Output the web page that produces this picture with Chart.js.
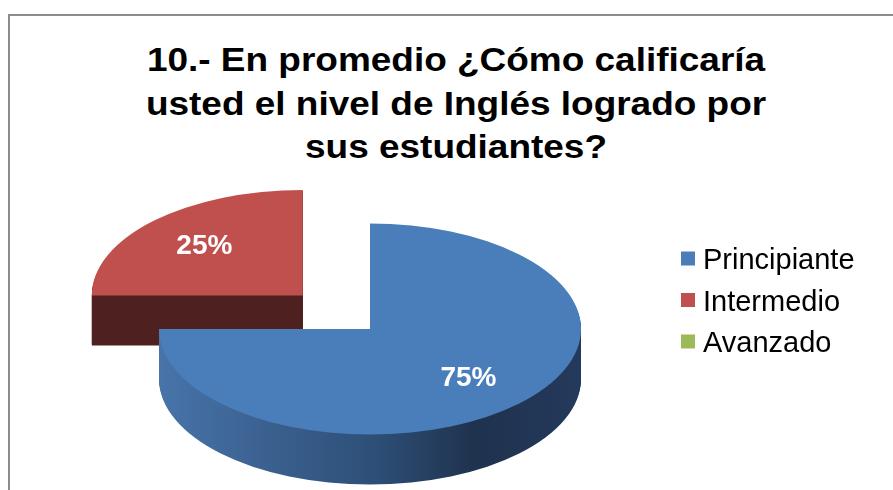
<!DOCTYPE html>
<html>
<head>
<meta charset="utf-8">
<title>Nivel de Inglés</title>
<script src="https://cdn.jsdelivr.net/npm/chart.js@4.4.1/dist/chart.umd.min.js"></script>
<style>
    body { margin: 0; background: #fff; }
    #wrap { position: relative; width: 893px; height: 490px; overflow: hidden; font-family: "Liberation Sans", Arial, sans-serif; }
    #frame { position: absolute; left: 8px; top: 14px; width: 900px; height: 500px; border-left: 2px solid #8c8c8c; border-top: 2px solid #8c8c8c; }
    #title { position: absolute; left: 0; top: 38px; width: 912px; text-align: center; font-weight: bold; font-size: 33px; line-height: 43.5px; color: #000; transform: scaleX(1.12); transform-origin: 456px 0; }
    #chart { position: absolute; left: 0; top: 0; }
</style>
</head>
<body>
<div id="wrap">
    <div id="frame"></div>
    <div id="title"></div>
    <canvas id="chart" width="893" height="490"></canvas>
</div>
<script>
// Chart data
const titleLines = ['10.- En promedio ¿Cómo calificaría', 'usted el nivel de Inglés logrado por', 'sus estudiantes?'];
const categories = ['Principiante', 'Intermedio', 'Avanzado'];
const values = [75, 25, 0];
const colors = ['#4a7ebb', '#c0504d', '#9bbb59'];

document.getElementById('title').innerHTML = titleLines.join('<br>');

// wedge path in (unsquashed) circle coordinates
function wedge(ctx, x, y, r, a0, a1) {
    ctx.beginPath();
    ctx.moveTo(x, y);
    ctx.arc(x, y, r, a0, a1);
    ctx.closePath();
}

// Fake 3D pie: squash the library's arcs into an ellipse and extrude them
const pie3d = {
    id: 'pie3d',
    beforeDatasetsDraw(chart, args, opts) {
        const ctx = chart.ctx;
        const arcs = chart.getDatasetMeta(0).data;
        const k = opts.squash;
        const slices = [];
        arcs.forEach((arc, i) => {
            if (arc.circumference <= 0) return;
            const mid = (arc.startAngle + arc.endAngle) / 2;
            const e = opts.explode[i] || 0;
            slices.push({ arc, i, mid, x: arc.x + e * Math.cos(mid), y: arc.y + e * Math.sin(mid) });
        });
        // back slices first
        slices.sort((a, b) => a.y - b.y);

        slices.forEach(s => {
            const arc = s.arc;
            const r = arc.outerRadius;
            const stops = opts.sides[s.i];
            let fill = stops[0];
            if (stops.length > 1) {
                fill = ctx.createLinearGradient(s.x - r, 0, s.x + r, 0);
                stops.forEach((c, j) => fill.addColorStop(j / (stops.length - 1), c));
            }
            // side walls, stacked from the bottom up
            for (let d = opts.depth; d >= 1; d--) {
                ctx.save();
                ctx.translate(0, arc.y + d);
                ctx.scale(1, k);
                ctx.translate(0, -arc.y);
                wedge(ctx, s.x, s.y, r, arc.startAngle, arc.endAngle);
                ctx.fillStyle = fill;
                ctx.fill();
                ctx.restore();
            }
            // top face
            ctx.save();
            ctx.translate(0, arc.y);
            ctx.scale(1, k);
            ctx.translate(0, -arc.y);
            wedge(ctx, s.x, s.y, r, arc.startAngle, arc.endAngle);
            ctx.fillStyle = arc.options.backgroundColor;
            ctx.fill();
            ctx.restore();
        });

        // percentage labels
        const total = values.reduce((a, b) => a + b, 0);
        ctx.save();
        ctx.fillStyle = '#fff';
        ctx.font = 'bold 28px "Liberation Sans", Arial, sans-serif';
        ctx.textAlign = 'center';
        ctx.textBaseline = 'middle';
        slices.forEach(s => {
            const dist = opts.labelRadius * s.arc.outerRadius;
            const lx = s.x + dist * Math.cos(s.mid);
            const ly = s.arc.y + (s.y + dist * Math.sin(s.mid) - s.arc.y) * k;
            const pct = Math.round(values[s.i] / total * 100) + '%';
            ctx.fillText(pct, lx, ly);
        });
        ctx.restore();
        return false;
    }
};

// Legend drawn on the right side
const sideLegend = {
    id: 'sideLegend',
    afterDraw(chart) {
        const ctx = chart.ctx;
        const ds = chart.data.datasets[0];
        ctx.save();
        ctx.font = '29px "Liberation Sans", Arial, sans-serif';
        ctx.textBaseline = 'alphabetic';
        chart.data.labels.forEach((label, i) => {
            const base = 269 + i * 41.5;
            ctx.fillStyle = ds.backgroundColor[i];
            ctx.fillRect(681, base - 17.5, 14, 14);
            ctx.fillStyle = '#000';
            ctx.fillText(label, 703, base);
        });
        ctx.restore();
    }
};

const ctx = document.getElementById('chart').getContext('2d');
new Chart(ctx, {
    type: 'pie',
    data: {
        labels: categories,
        datasets: [{
            data: values,
            backgroundColor: colors,
            borderWidth: 0,
            clip: false
        }]
    },
    options: {
        responsive: false,
        animation: false,
        events: [],
        radius: 211,
        layout: {
            padding: { left: 0, right: 153, top: 168, bottom: 0 }
        },
        plugins: {
            legend: { display: false },
            tooltip: { enabled: false },
            title: { display: false },
            pie3d: {
                squash: 0.5,
                depth: 50,
                explode: [0, 95, 0],
                labelRadius: 0.66,
                sides: [
                    ['#4874aa', '#3b6190', '#2e5078', '#1f324e', '#243a5c'],
                    ['#4f2020'],
                    ['#5c7030']
                ]
            }
        }
    },
    plugins: [pie3d, sideLegend]
});
</script>
</body>
</html>
